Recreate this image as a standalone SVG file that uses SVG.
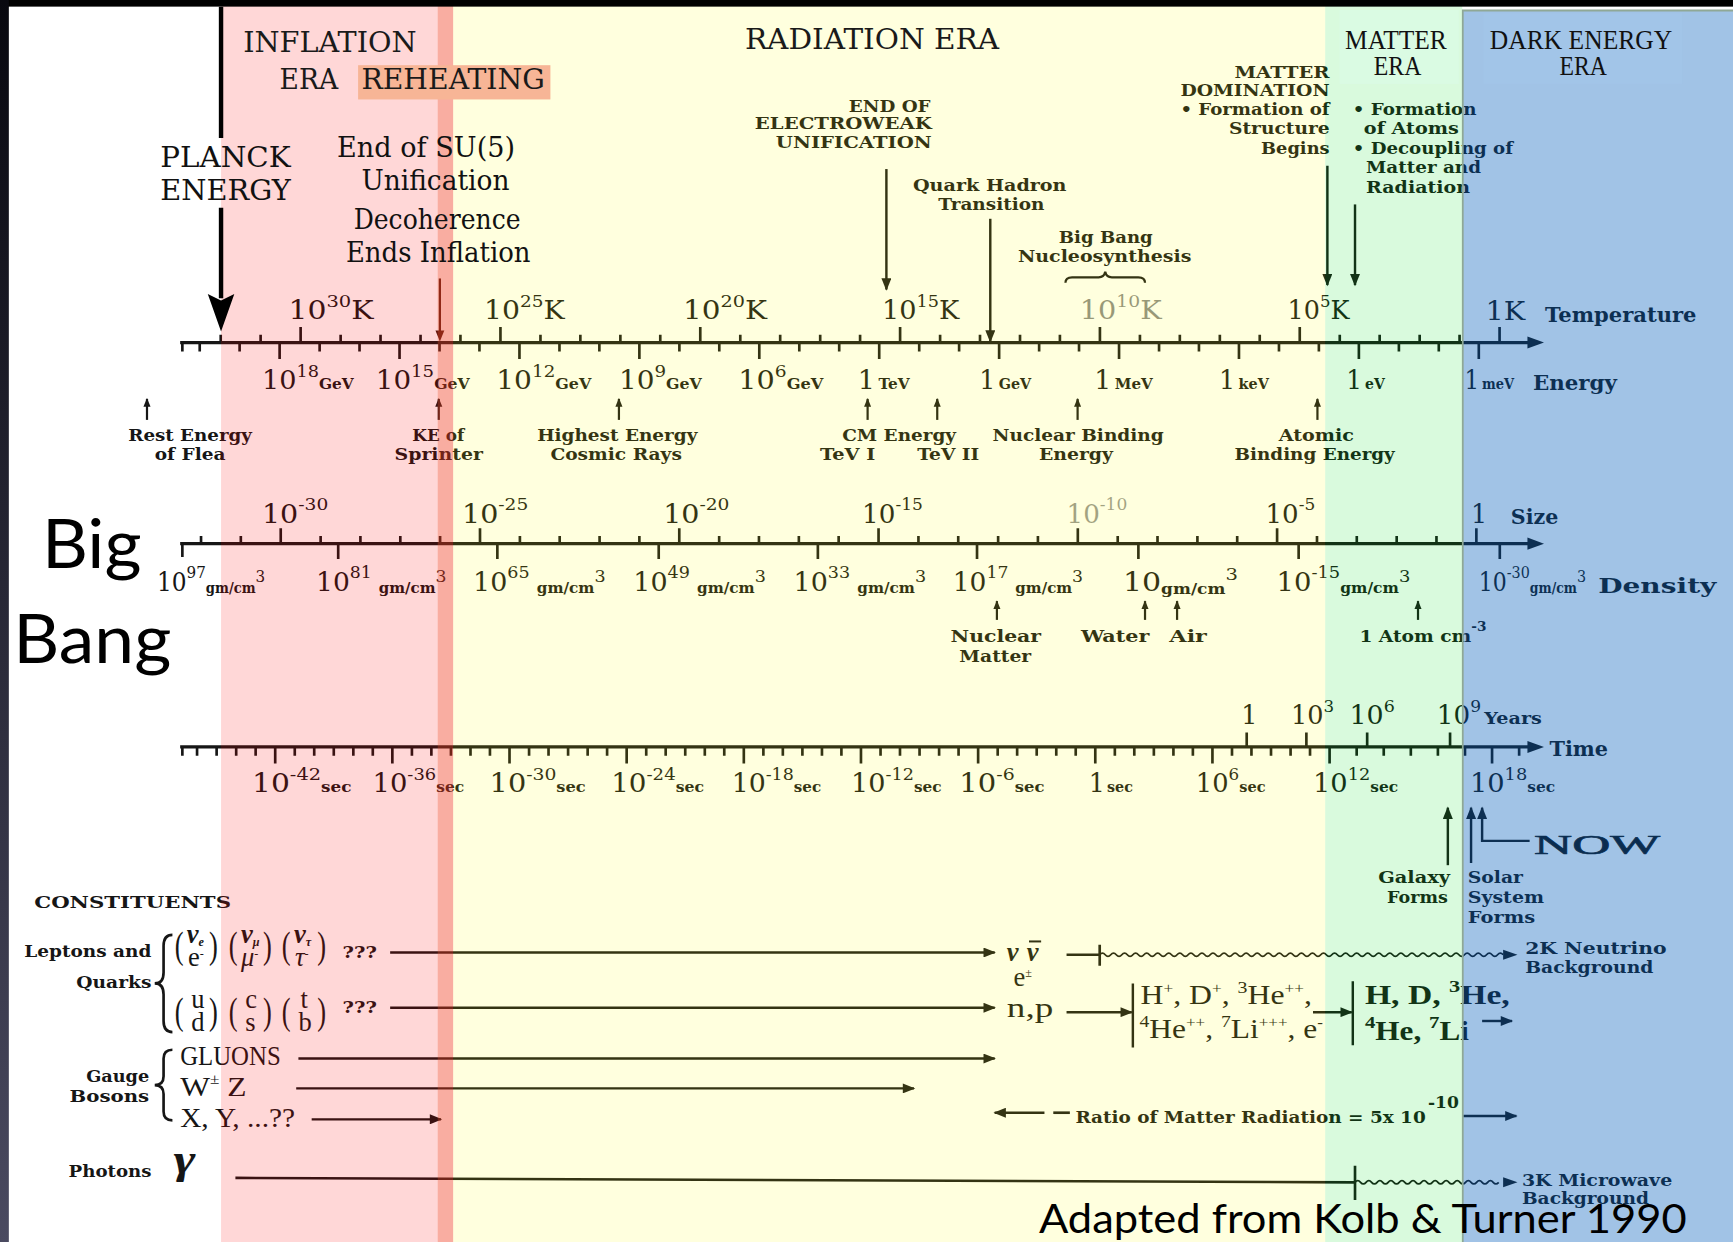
<svg xmlns="http://www.w3.org/2000/svg" width="1733" height="1242" viewBox="0 0 1733 1242">
<defs>
<style>
.n{font-family:"DejaVu Serif","Liberation Serif",serif;font-size:23px;fill:#161616}
.s{font-size:15px}
.u{font-size:13px;font-weight:bold}
.b{font-family:"DejaVu Serif","Liberation Serif",serif;font-weight:bold;font-size:15px;fill:#161616}
.bl{font-family:"DejaVu Serif","Liberation Serif",serif;font-weight:bold;font-size:19px;fill:#161616}
.era{font-family:"DejaVu Serif","Liberation Serif",serif;font-size:26px;fill:#1a1a1a}
.pl{font-family:"DejaVu Serif","Liberation Serif",serif;font-size:25px;fill:#111}
.tm{font-family:"Liberation Serif",serif;font-size:24px;fill:#111}
.cs{font-family:"Liberation Serif",serif;font-size:24px;fill:#161616}
.gl{font-family:Lato,"Open Sans",sans-serif;fill:#000}
.ax{stroke:#161616;stroke-width:3;fill:none}
.tk{stroke:#161616;stroke-width:2.4;fill:none}
.ar{stroke:#161616;stroke-width:2.2;fill:none;marker-end:url(#ah)}
.sa{stroke:#161616;stroke-width:2;fill:none;marker-end:url(#as)}
.wv{stroke:#161616;stroke-width:1.6;fill:none}
</style>
<marker id="ah" viewBox="0 0 10 8" refX="9" refY="4" markerWidth="12" markerHeight="9" markerUnits="userSpaceOnUse" orient="auto"><path d="M0 0L10 4L0 8z" fill="#161616"/></marker>
<marker id="as" viewBox="0 0 10 8" refX="9" refY="4" markerWidth="8" markerHeight="7" markerUnits="userSpaceOnUse" orient="auto"><path d="M0 0L10 4L0 8z" fill="#161616"/></marker>
<linearGradient id="lb" x1="0" y1="0" x2="0" y2="1"><stop offset="0" stop-color="#08080f"/><stop offset="1" stop-color="#4a4a60"/></linearGradient>
</defs>
<rect width="1733" height="1242" fill="#ffffff"/>
<g transform="scale(1.10523 1.10498)">

<!-- ===== Temperature / Energy axis ===== -->
<g id="axis-temperature-energy">
<path class="ax" d="M163 310H1384"/>
<path d="M1382 304.5L1397 310L1382 315.5z" fill="#161616"/>
<path class="tk" d="M199.7 310v-7M235.8 310v-7M308.2 310v-7M344.3 310v-7M380.5 310v-7M416.6 310v-7M489 310v-7M525.1 310v-7M561.3 310v-7M597.4 310v-7M669.8 310v-7M705.9 310v-7M742.1 310v-7M778.2 310v-7M850.6 310v-7M886.7 310v-7M922.9 310v-7M959 310v-7M1031.4 310v-7M1067.5 310v-7M1103.7 310v-7M1139.8 310v-7M1212.2 310v-7M1248.3 310v-7M1284.5 310v-7M1320.6 310v-7"/>
<path class="tk" stroke-width="3" d="M272 310v-14M452.8 310v-14M633.6 310v-14M814.4 310v-14M995.2 310v-14M1176 310v-14M1356.8 310v-14"/>
<path class="tk" d="M165 310v8M180.7 310v8M216.8 310v8M289.2 310v8M325.3 310v8M397.7 310v8M433.8 310v8M506.2 310v8M542.3 310v8M614.7 310v8M650.8 310v8M723.2 310v8M759.3 310v8M831.7 310v8M867.8 310v8M940.2 310v8M976.3 310v8M1048.7 310v8M1084.8 310v8M1157.2 310v8M1193.3 310v8M1265.7 310v8M1301.8 310v8"/>
<path class="tk" stroke-width="3" d="M253 310v15M361.5 310v15M470 310v15M578.5 310v15M687 310v15M795.5 310v15M904 310v15M1012.5 310v15M1121 310v15M1229.5 310v15M1338 310v15"/>
<text class="n" x="261" y="289" textLength="77" lengthAdjust="spacingAndGlyphs">10<tspan class="s" dy="-11">30</tspan><tspan dy="11">K</tspan></text>
<text class="n" x="438" y="289" textLength="73" lengthAdjust="spacingAndGlyphs">10<tspan class="s" dy="-11">25</tspan><tspan dy="11">K</tspan></text>
<text class="n" x="618" y="289" textLength="76" lengthAdjust="spacingAndGlyphs">10<tspan class="s" dy="-11">20</tspan><tspan dy="11">K</tspan></text>
<text class="n" x="798" y="289" textLength="70" lengthAdjust="spacingAndGlyphs">10<tspan class="s" dy="-11">15</tspan><tspan dy="11">K</tspan></text>
<text class="n" x="977" y="289" textLength="74" lengthAdjust="spacingAndGlyphs" opacity="0.5">10<tspan class="s" dy="-11">10</tspan><tspan dy="11">K</tspan></text>
<text class="n" x="1165" y="289" textLength="56" lengthAdjust="spacingAndGlyphs">10<tspan class="s" dy="-11">5</tspan><tspan dy="11">K</tspan></text>
<text class="n" x="1344" y="290" textLength="36" lengthAdjust="spacingAndGlyphs">1K</text>
<text class="bl" x="1398" y="291" textLength="137" lengthAdjust="spacingAndGlyphs">Temperature</text>
<text class="n" x="237" y="352" textLength="83" lengthAdjust="spacingAndGlyphs">10<tspan class="s" dy="-11">18</tspan><tspan class="u" dy="11">GeV</tspan></text>
<text class="n" x="340" y="352" textLength="85" lengthAdjust="spacingAndGlyphs">10<tspan class="s" dy="-11">15</tspan><tspan class="u" dy="11">GeV</tspan></text>
<text class="n" x="449" y="352" textLength="86" lengthAdjust="spacingAndGlyphs">10<tspan class="s" dy="-11">12</tspan><tspan class="u" dy="11">GeV</tspan></text>
<text class="n" x="560" y="352" textLength="75" lengthAdjust="spacingAndGlyphs">10<tspan class="s" dy="-11">9</tspan><tspan class="u" dy="11">GeV</tspan></text>
<text class="n" x="668" y="352" textLength="77" lengthAdjust="spacingAndGlyphs">10<tspan class="s" dy="-11">6</tspan><tspan class="u" dy="11">GeV</tspan></text>
<text class="n" x="776" y="352" textLength="47" lengthAdjust="spacingAndGlyphs">1<tspan class="u" dx="3">TeV</tspan></text>
<text class="n" x="886" y="352" textLength="47" lengthAdjust="spacingAndGlyphs">1<tspan class="u" dx="3">GeV</tspan></text>
<text class="n" x="990" y="352" textLength="53" lengthAdjust="spacingAndGlyphs">1<tspan class="u" dx="3">MeV</tspan></text>
<text class="n" x="1103" y="352" textLength="45" lengthAdjust="spacingAndGlyphs">1<tspan class="u" dx="3">keV</tspan></text>
<text class="n" x="1218" y="352" textLength="35" lengthAdjust="spacingAndGlyphs">1<tspan class="u" dx="3">eV</tspan></text>
<text class="n" x="1325" y="352" textLength="45" lengthAdjust="spacingAndGlyphs">1<tspan class="u" dx="3">meV</tspan></text>
<text class="bl" x="1387" y="353" textLength="76" lengthAdjust="spacingAndGlyphs">Energy</text>
</g>

<g id="energy-markers">
<path class="sa" d="M133 380V361"/>
<path class="sa" d="M397 380V361"/>
<path class="sa" d="M560 380V361"/>
<path class="sa" d="M785 380V361"/>
<path class="sa" d="M848 380V361"/>
<path class="sa" d="M975 380V361"/>
<path class="sa" d="M1192 380V361"/>
<text class="b" x="116" y="399" textLength="112" lengthAdjust="spacingAndGlyphs">Rest Energy</text>
<text class="b" x="140" y="416" textLength="64" lengthAdjust="spacingAndGlyphs">of Flea</text>
<text class="b" x="373" y="399" textLength="47" lengthAdjust="spacingAndGlyphs">KE of</text>
<text class="b" x="357" y="416" textLength="80" lengthAdjust="spacingAndGlyphs">Sprinter</text>
<text class="b" x="486" y="399" textLength="145" lengthAdjust="spacingAndGlyphs">Highest Energy</text>
<text class="b" x="498" y="416" textLength="119" lengthAdjust="spacingAndGlyphs">Cosmic Rays</text>
<text class="b" x="762" y="399" textLength="103" lengthAdjust="spacingAndGlyphs">CM Energy</text>
<text class="b" x="742" y="416" textLength="50" lengthAdjust="spacingAndGlyphs">TeV I</text>
<text class="b" x="830" y="416" textLength="56" lengthAdjust="spacingAndGlyphs">TeV II</text>
<text class="b" x="898" y="399" textLength="155" lengthAdjust="spacingAndGlyphs">Nuclear Binding</text>
<text class="b" x="940" y="416" textLength="67" lengthAdjust="spacingAndGlyphs">Energy</text>
<text class="b" x="1157" y="399" textLength="68" lengthAdjust="spacingAndGlyphs">Atomic</text>
<text class="b" x="1117" y="416" textLength="145" lengthAdjust="spacingAndGlyphs">Binding Energy</text>
</g>

<!-- ===== Size / Density axis ===== -->
<g id="axis-size-density">
<path class="ax" d="M163 492H1384"/>
<path d="M1382 486.5L1397 492L1382 497.5z" fill="#161616"/>
<path class="tk" d="M181.9 492v-7M217.9 492v-7M290.1 492v-7M326.1 492v-7M362.2 492v-7M398.2 492v-7M470.4 492v-7M506.4 492v-7M542.5 492v-7M578.5 492v-7M650.7 492v-7M686.7 492v-7M722.8 492v-7M758.8 492v-7M831 492v-7M867 492v-7M903.1 492v-7M939.1 492v-7M1011.3 492v-7M1047.3 492v-7M1083.4 492v-7M1119.4 492v-7M1191.6 492v-7M1227.6 492v-7M1263.7 492v-7M1299.7 492v-7"/>
<path class="tk" stroke-width="3" d="M254 492v-14M434.3 492v-14M614.6 492v-14M794.9 492v-14M975.2 492v-14M1155.5 492v-14M1335.8 492v-14"/>
<path class="tk" stroke-width="3" d="M165 492v12M306 492v14M450 492v14M596 492v14M740 492v14M884 492v14M1030 492v14M1175 492v14M1357 492v14"/>
<text class="n" x="237" y="473" textLength="60" lengthAdjust="spacingAndGlyphs">10<tspan class="s" dy="-11">-30</tspan></text>
<text class="n" x="418" y="473" textLength="60" lengthAdjust="spacingAndGlyphs">10<tspan class="s" dy="-11">-25</tspan></text>
<text class="n" x="600" y="473" textLength="60" lengthAdjust="spacingAndGlyphs">10<tspan class="s" dy="-11">-20</tspan></text>
<text class="n" x="780" y="473" textLength="55" lengthAdjust="spacingAndGlyphs">10<tspan class="s" dy="-11">-15</tspan></text>
<text class="n" x="965" y="473" textLength="55" lengthAdjust="spacingAndGlyphs" opacity="0.45">10<tspan class="s" dy="-11">-10</tspan></text>
<text class="n" x="1145" y="473" textLength="45" lengthAdjust="spacingAndGlyphs">10<tspan class="s" dy="-11">-5</tspan></text>
<text class="n" x="1331" y="473">1</text>
<text class="bl" x="1367" y="474" textLength="43" lengthAdjust="spacingAndGlyphs">Size</text>
<text class="n" x="142" y="535" textLength="98" lengthAdjust="spacingAndGlyphs">10<tspan class="s" dy="-12">97</tspan><tspan class="u" dy="14">gm/cm</tspan><tspan class="s" dy="-10">3</tspan></text>
<text class="n" x="286" y="535" textLength="118" lengthAdjust="spacingAndGlyphs">10<tspan class="s" dy="-12">81</tspan><tspan class="u" dy="14" dx="6">gm/cm</tspan><tspan class="s" dy="-10">3</tspan></text>
<text class="n" x="428" y="535" textLength="120" lengthAdjust="spacingAndGlyphs">10<tspan class="s" dy="-12">65</tspan><tspan class="u" dy="14" dx="6">gm/cm</tspan><tspan class="s" dy="-10">3</tspan></text>
<text class="n" x="573" y="535" textLength="120" lengthAdjust="spacingAndGlyphs">10<tspan class="s" dy="-12">49</tspan><tspan class="u" dy="14" dx="6">gm/cm</tspan><tspan class="s" dy="-10">3</tspan></text>
<text class="n" x="718" y="535" textLength="120" lengthAdjust="spacingAndGlyphs">10<tspan class="s" dy="-12">33</tspan><tspan class="u" dy="14" dx="6">gm/cm</tspan><tspan class="s" dy="-10">3</tspan></text>
<text class="n" x="862" y="535" textLength="118" lengthAdjust="spacingAndGlyphs">10<tspan class="s" dy="-12">17</tspan><tspan class="u" dy="14" dx="6">gm/cm</tspan><tspan class="s" dy="-10">3</tspan></text>
<text class="n" x="1016" y="535" textLength="104" lengthAdjust="spacingAndGlyphs">10<tspan class="u" dy="3">gm/cm</tspan><tspan class="s" dy="-13">3</tspan></text>
<text class="n" x="1155" y="535" textLength="121" lengthAdjust="spacingAndGlyphs">10<tspan class="s" dy="-12">-15</tspan><tspan class="u" dy="14">gm/cm</tspan><tspan class="s" dy="-10">3</tspan></text>
<text class="n" x="1338" y="535" textLength="97" lengthAdjust="spacingAndGlyphs">10<tspan class="s" dy="-12">-30</tspan><tspan class="u" dy="14">gm/cm</tspan><tspan class="s" dy="-10">3</tspan></text>
<text class="bl" x="1446" y="537" textLength="107" lengthAdjust="spacingAndGlyphs">Density</text>
</g>

<g id="density-markers">
<path class="sa" d="M902 561V544"/>
<path class="sa" d="M1036 561V544"/>
<path class="sa" d="M1065 561V544"/>
<path class="sa" d="M1283 561V544"/>
<text class="b" x="860" y="581" textLength="82" lengthAdjust="spacingAndGlyphs">Nuclear</text>
<text class="b" x="868" y="599" textLength="65" lengthAdjust="spacingAndGlyphs">Matter</text>
<text class="b" x="978" y="581" textLength="62" lengthAdjust="spacingAndGlyphs">Water</text>
<text class="b" x="1058" y="581" textLength="34" lengthAdjust="spacingAndGlyphs">Air</text>
<text class="b" x="1230" y="581" textLength="115" lengthAdjust="spacingAndGlyphs">1 Atom cm<tspan font-size="11" dy="-10">-3</tspan></text>
</g>

<!-- ===== Time axis ===== -->
<g id="axis-time">
<path class="ax" d="M163 676H1384"/>
<path d="M1382 670.5L1397 676L1382 681.5z" fill="#161616"/>
<path class="tk" d="M165 676v8M178.3 676v8M196 676v8M213.7 676v8M231.3 676v8M266.7 676v8M284.3 676v8M302 676v8M319.7 676v8M337.3 676v8M372.7 676v8M390.3 676v8M408 676v8M425.7 676v8M443.3 676v8M478.7 676v8M496.3 676v8M514 676v8M531.7 676v8M549.3 676v8M584.7 676v8M602.3 676v8M620 676v8M637.7 676v8M655.3 676v8M690.7 676v8M708.3 676v8M726 676v8M743.7 676v8M761.3 676v8M796.7 676v8M814.3 676v8M832 676v8M849.7 676v8M867.3 676v8M902.7 676v8M920.3 676v8M938 676v8M955.7 676v8M973.3 676v8M1008.7 676v8M1026.3 676v8M1044 676v8M1061.7 676v8M1079.3 676v8M1114.7 676v8M1132.3 676v8M1150 676v8M1167.7 676v8M1185.3 676v8M1227.5 676v8M1252 676v8M1276.5 676v8M1301 676v8M1325.5 676v8M1374.5 676v8"/>
<path class="tk" stroke-width="3" d="M249 676v15M355 676v15M461 676v15M567 676v15M673 676v15M779 676v15M885 676v15M991 676v15M1097 676v15M1203 676v15M1350 676v15"/>
<path class="tk" stroke-width="3" d="M1128 676v-13M1182 676v-13M1237 676v-13M1312 676v-13"/>
<text class="n" x="228" y="717" textLength="90" lengthAdjust="spacingAndGlyphs">10<tspan class="s" dy="-11">-42</tspan><tspan class="u" dy="11">sec</tspan></text>
<text class="n" x="337" y="717" textLength="83" lengthAdjust="spacingAndGlyphs">10<tspan class="s" dy="-11">-36</tspan><tspan class="u" dy="11">sec</tspan></text>
<text class="n" x="443" y="717" textLength="87" lengthAdjust="spacingAndGlyphs">10<tspan class="s" dy="-11">-30</tspan><tspan class="u" dy="11">sec</tspan></text>
<text class="n" x="553" y="717" textLength="84" lengthAdjust="spacingAndGlyphs">10<tspan class="s" dy="-11">-24</tspan><tspan class="u" dy="11">sec</tspan></text>
<text class="n" x="662" y="717" textLength="81" lengthAdjust="spacingAndGlyphs">10<tspan class="s" dy="-11">-18</tspan><tspan class="u" dy="11">sec</tspan></text>
<text class="n" x="770" y="717" textLength="82" lengthAdjust="spacingAndGlyphs">10<tspan class="s" dy="-11">-12</tspan><tspan class="u" dy="11">sec</tspan></text>
<text class="n" x="868" y="717" textLength="77" lengthAdjust="spacingAndGlyphs">10<tspan class="s" dy="-11">-6</tspan><tspan class="u" dy="11">sec</tspan></text>
<text class="n" x="985" y="717" textLength="40" lengthAdjust="spacingAndGlyphs">1<tspan class="u" dx="2">sec</tspan></text>
<text class="n" x="1082" y="717" textLength="63" lengthAdjust="spacingAndGlyphs">10<tspan class="s" dy="-11">6</tspan><tspan class="u" dy="11">sec</tspan></text>
<text class="n" x="1188" y="717" textLength="77" lengthAdjust="spacingAndGlyphs">10<tspan class="s" dy="-11">12</tspan><tspan class="u" dy="11">sec</tspan></text>
<text class="n" x="1330" y="717" textLength="77" lengthAdjust="spacingAndGlyphs">10<tspan class="s" dy="-11">18</tspan><tspan class="u" dy="11">sec</tspan></text>
<text class="n" x="1123" y="655">1</text>
<text class="n" x="1168" y="655" textLength="39" lengthAdjust="spacingAndGlyphs">10<tspan class="s" dy="-11">3</tspan></text>
<text class="n" x="1221" y="655" textLength="41" lengthAdjust="spacingAndGlyphs">10<tspan class="s" dy="-11">6</tspan></text>
<text class="n" x="1300" y="655" textLength="40" lengthAdjust="spacingAndGlyphs">10<tspan class="s" dy="-11">9</tspan></text>
<text class="b" x="1343" y="655" textLength="52" lengthAdjust="spacingAndGlyphs" font-size="13">Years</text>
<text class="bl" x="1402" y="684" textLength="53" lengthAdjust="spacingAndGlyphs">Time</text>
</g>

<g id="now-markers">
<path class="ar" stroke-width="3" d="M1310 783V731"/>
<path class="ar" stroke-width="2.6" d="M1331 781V731"/>
<path class="ar" stroke-width="2.6" d="M1384 761H1341V731"/>
<text class="tm" x="1388" y="773" font-size="47" textLength="114" lengthAdjust="spacingAndGlyphs" stroke="#161616" stroke-width="0.6">NOW</text>
<text class="b" x="1247" y="799" textLength="65" lengthAdjust="spacingAndGlyphs">Galaxy</text>
<text class="b" x="1255" y="817" textLength="55" lengthAdjust="spacingAndGlyphs">Forms</text>
<text class="b" x="1328" y="799" textLength="50" lengthAdjust="spacingAndGlyphs">Solar</text>
<text class="b" x="1328" y="817" textLength="69" lengthAdjust="spacingAndGlyphs">System</text>
<text class="b" x="1328" y="835" textLength="61" lengthAdjust="spacingAndGlyphs">Forms</text>
</g>

<!-- ===== Event annotations ===== -->
<g id="event-electroweak">
<text class="b" x="768" y="101" textLength="74" lengthAdjust="spacingAndGlyphs">END OF</text>
<text class="b" x="683" y="117" textLength="160" lengthAdjust="spacingAndGlyphs">ELECTROWEAK</text>
<text class="b" x="702" y="134" textLength="141" lengthAdjust="spacingAndGlyphs">UNIFICATION</text>
<path class="ar" d="M802 153V262"/>
</g>
<g id="event-quark-hadron">
<text class="b" x="826" y="173" textLength="139" lengthAdjust="spacingAndGlyphs">Quark Hadron</text>
<text class="b" x="849" y="190" textLength="96" lengthAdjust="spacingAndGlyphs">Transition</text>
<path class="ar" d="M896 198V309"/>
</g>
<g id="event-nucleosynthesis">
<text class="b" x="958" y="220" textLength="85" lengthAdjust="spacingAndGlyphs">Big Bang</text>
<text class="b" x="921" y="237" textLength="157" lengthAdjust="spacingAndGlyphs">Nucleosynthesis</text>
<path d="M964 256q0 -5 6 -5h24q5 0 6 -5q1 5 6 5h24q6 0 6 5" fill="none" stroke="#161616" stroke-width="2"/>
</g>
<g id="event-matter-domination">
<text class="b" x="1117" y="71" textLength="86" lengthAdjust="spacingAndGlyphs">MATTER</text>
<text class="b" x="1068" y="87" textLength="135" lengthAdjust="spacingAndGlyphs">DOMINATION</text>
<text class="b" x="1068" y="104" textLength="135" lengthAdjust="spacingAndGlyphs">• Formation of</text>
<text class="b" x="1112" y="121" textLength="91" lengthAdjust="spacingAndGlyphs">Structure</text>
<text class="b" x="1141" y="139" textLength="62" lengthAdjust="spacingAndGlyphs">Begins</text>
<path class="ar" d="M1201 150V258"/>
</g>
<g id="event-decoupling">
<text class="b" x="1224" y="104" textLength="112" lengthAdjust="spacingAndGlyphs">• Formation</text>
<text class="b" x="1234" y="121" textLength="86" lengthAdjust="spacingAndGlyphs">of Atoms</text>
<text class="b" x="1224" y="139" textLength="145" lengthAdjust="spacingAndGlyphs">• Decoupling of</text>
<text class="b" x="1236" y="157" textLength="104" lengthAdjust="spacingAndGlyphs">Matter and</text>
<text class="b" x="1236" y="175" textLength="94" lengthAdjust="spacingAndGlyphs">Radiation</text>
<path class="ar" d="M1226 185V258"/>
</g>
<g id="event-reheating-line">
<path d="M398 252V300" stroke="#4a1a10" stroke-width="2"/>
<path d="M394 299L398 309L402 299z" fill="#4a1a10"/>
</g>

<!-- ===== Constituents ===== -->
<g id="constituents">
<text class="b" x="31" y="822" font-size="19" textLength="178" lengthAdjust="spacingAndGlyphs">CONSTITUENTS</text>
<text class="b" x="22" y="866" textLength="115" lengthAdjust="spacingAndGlyphs">Leptons and</text>
<text class="b" x="69" y="894" textLength="68" lengthAdjust="spacingAndGlyphs">Quarks</text>
<path d="M156 846q-8 0 -8 10v24q0 10 -8 10q8 0 8 10v24q0 10 8 10" fill="none" stroke="#161616" stroke-width="2.4"/>
<text class="cs" font-size="30" transform="translate(158 867) scale(1 1.45)">(</text>
<text class="cs" font-size="30" transform="translate(189 867) scale(1 1.45)">)</text>
<text class="cs" font-size="30" transform="translate(207 867) scale(1 1.45)">(</text>
<text class="cs" font-size="30" transform="translate(238 867) scale(1 1.45)">)</text>
<text class="cs" font-size="30" transform="translate(255 867) scale(1 1.45)">(</text>
<text class="cs" font-size="30" transform="translate(287 867) scale(1 1.45)">)</text>
<text class="cs" font-size="19" font-style="italic" font-weight="bold" x="169" y="853">ν<tspan font-size="11" dy="3">e</tspan></text>
<text class="cs" font-size="19" x="170" y="874">e<tspan font-size="11" dy="-7">-</tspan></text>
<text class="cs" font-size="19" font-style="italic" font-weight="bold" x="218" y="853">ν<tspan font-size="11" dy="3">μ</tspan></text>
<text class="cs" font-size="19" font-style="italic" x="218" y="874">μ<tspan font-size="11" dy="-7">-</tspan></text>
<text class="cs" font-size="19" font-style="italic" font-weight="bold" x="266" y="853">ν<tspan font-size="11" dy="3">τ</tspan></text>
<text class="cs" font-size="19" font-style="italic" x="267" y="874">τ<tspan font-size="11" dy="-7">-</tspan></text>
<text class="b" x="310" y="867" textLength="31" lengthAdjust="spacingAndGlyphs">???</text>
<text class="cs" font-size="30" transform="translate(158 927) scale(1 1.45)">(</text>
<text class="cs" font-size="30" transform="translate(189 927) scale(1 1.45)">)</text>
<text class="cs" font-size="30" transform="translate(207 927) scale(1 1.45)">(</text>
<text class="cs" font-size="30" transform="translate(238 927) scale(1 1.45)">)</text>
<text class="cs" font-size="30" transform="translate(255 927) scale(1 1.45)">(</text>
<text class="cs" font-size="30" transform="translate(287 927) scale(1 1.45)">)</text>
<text class="cs" font-size="20" x="173" y="912">u</text><text class="cs" font-size="20" x="173" y="933">d</text>
<text class="cs" font-size="20" x="222" y="912">c</text><text class="cs" font-size="20" x="222" y="933">s</text>
<text class="cs" font-size="20" x="272" y="912">t</text><text class="cs" font-size="20" x="270" y="933">b</text>
<text class="b" x="310" y="917" textLength="31" lengthAdjust="spacingAndGlyphs">???</text>

<text class="b" x="78" y="979" textLength="57" lengthAdjust="spacingAndGlyphs">Gauge</text>
<text class="b" x="63" y="997" textLength="72" lengthAdjust="spacingAndGlyphs">Bosons</text>
<path d="M156 950q-8 0 -8 8v16q0 8 -8 8q8 0 8 8v16q0 8 8 8" fill="none" stroke="#161616" stroke-width="2.4"/>
<text class="cs" x="163" y="964" font-size="22" textLength="91" lengthAdjust="spacingAndGlyphs">GLUONS</text>
<text class="cs" x="163" y="992" font-size="25" textLength="60" lengthAdjust="spacingAndGlyphs">W<tspan font-size="13" dy="-11">±</tspan><tspan dy="11"> Z</tspan></text>
<text class="cs" x="163" y="1020" font-size="25" textLength="104" lengthAdjust="spacingAndGlyphs">X, Y, ...??</text>
<text class="b" x="62" y="1065" textLength="75" lengthAdjust="spacingAndGlyphs">Photons</text>
<text class="cs" font-size="30" font-style="italic" font-weight="bold" transform="translate(157 1062) scale(2 1.6)">γ</text>

<text class="cs" x="911" y="870" font-size="22" font-style="italic" font-weight="bold">ν</text>
<text class="cs" x="929" y="870" font-size="22" font-style="italic" font-weight="bold">ν</text>
<path d="M931 852H942" stroke="#161616" stroke-width="1.8"/>
<text class="cs" x="917" y="892" font-size="18">e<tspan font-size="11" dy="-8">±</tspan></text>
<text class="cs" x="911" y="920" font-size="26" textLength="42" lengthAdjust="spacingAndGlyphs">n,p</text>
<path d="M1025 890V948M1224 888V946" stroke="#161616" stroke-width="2.2"/>
<text class="cs" x="1032" y="909" font-size="24" textLength="155" lengthAdjust="spacingAndGlyphs">H<tspan font-size="13" dy="-10">+</tspan><tspan dy="10">, D</tspan><tspan font-size="13" dy="-10">+</tspan><tspan dy="10">, </tspan><tspan font-size="15" dy="-10">3</tspan><tspan dy="10">He</tspan><tspan font-size="13" dy="-10">++</tspan><tspan dy="10">,</tspan></text>
<text class="cs" x="1031" y="939" font-size="24" textLength="166" lengthAdjust="spacingAndGlyphs"><tspan font-size="15" dy="-10">4</tspan><tspan dy="10">He</tspan><tspan font-size="13" dy="-10">++</tspan><tspan dy="10">, </tspan><tspan font-size="15" dy="-10">7</tspan><tspan dy="10">Li</tspan><tspan font-size="13" dy="-10">+++</tspan><tspan dy="10">, e</tspan><tspan font-size="13" dy="-10">-</tspan></text>
<text class="cs" x="1235" y="909" font-size="26" font-weight="bold" textLength="131" lengthAdjust="spacingAndGlyphs">H, D, <tspan font-size="16" dy="-11">3</tspan><tspan dy="11">He,</tspan></text>
<text class="cs" x="1235" y="941" font-size="26" font-weight="bold" textLength="94" lengthAdjust="spacingAndGlyphs"><tspan font-size="16" dy="-11">4</tspan><tspan dy="11">He, </tspan><tspan font-size="16" dy="-11">7</tspan><tspan dy="11">Li</tspan></text>
<text class="b" x="973" y="1016" font-size="16" textLength="317" lengthAdjust="spacingAndGlyphs">Ratio of Matter Radiation = 5x 10</text>
<text class="b" x="1292" y="1003" font-size="12" textLength="28" lengthAdjust="spacingAndGlyphs">-10</text>
<text class="b" x="1380" y="863" textLength="128" lengthAdjust="spacingAndGlyphs">2K Neutrino</text>
<text class="b" x="1380" y="881" textLength="116" lengthAdjust="spacingAndGlyphs">Background</text>
<text class="b" x="1377" y="1073" textLength="136" lengthAdjust="spacingAndGlyphs">3K Microwave</text>
<text class="b" x="1377" y="1090" textLength="115" lengthAdjust="spacingAndGlyphs">Background</text>
</g>

<g id="connectors">
<path class="ar" d="M353 862H900"/>
<path class="ar" d="M353 912H900"/>
<path class="ar" d="M270 958H900"/>
<path class="ar" d="M268 985H827"/>
<path class="ar" d="M282 1013H399"/>
<path class="ar" d="M965 916H1024"/>
<path class="ar" d="M1188 916H1223"/>
<path class="ar" d="M1341 924H1368"/>
<path class="tk" stroke-width="2" d="M965 864H995M995 855V874"/>
<path class="wv" d="M995 864q2.5 -3 5 0t5 0t5 0t5 0t5 0t5 0t5 0t5 0t5 0t5 0t5 0t5 0t5 0t5 0t5 0t5 0t5 0t5 0t5 0t5 0t5 0t5 0t5 0t5 0t5 0t5 0t5 0t5 0t5 0t5 0t5 0t5 0t5 0t5 0t5 0t5 0t5 0t5 0t5 0t5 0t5 0t5 0t5 0t5 0t5 0t5 0t5 0t5 0t5 0t5 0t5 0t5 0t5 0t5 0t5 0t5 0t5 0t5 0t5 0t5 0t5 0t5 0t5 0t5 0t5 0t5 0t5 0t5 0t5 0t5 0t5 0t5 0t5 0"/>
<path d="M1360 859.5L1373 864L1360 868.5z" fill="#161616"/>
<path class="ar" d="M945 1007H900"/>
<path class="tk" stroke-width="2" d="M953 1007H968"/>
<path class="ar" d="M1324 1010H1372"/>
<path class="tk" stroke-width="2.4" d="M213 1066L1226 1070M1226 1055V1086"/>
<path class="wv" d="M1226 1070q2.5 -3 5 0t5 0t5 0t5 0t5 0t5 0t5 0t5 0t5 0t5 0t5 0t5 0t5 0t5 0t5 0t5 0t5 0t5 0t5 0t5 0t5 0t5 0t5 0t5 0t5 0t5 0"/>
<path d="M1360 1065.5L1373 1070L1360 1074.5z" fill="#161616"/>
</g>

<!-- ===== Era colour overlays ===== -->
<g id="eras">
<rect x="200" y="0" width="196" height="1124" fill="rgb(255,0,0)" opacity="0.157"/>
<rect x="396" y="0" width="14" height="1124" fill="rgb(240,60,30)" opacity="0.42"/>
<rect x="410" y="0" width="789" height="1124" fill="rgb(255,255,0)" opacity="0.13"/>
<rect x="1199" y="0" width="124" height="1124" fill="rgb(0,220,30)" opacity="0.15"/>
<rect x="1323" y="9" width="250" height="1120" fill="rgb(0,92,187)" opacity="0.37"/>
<path d="M1323.5 1124V9.5H1568" fill="none" stroke="#8fa896" stroke-width="1.6"/>
<rect x="1212" y="9" width="108" height="67" fill="#dcfbe9" opacity="0.5"/>
<rect x="1342" y="12" width="180" height="64" fill="#a6c9ec" opacity="0.4"/>
</g>

<!-- ===== Titles (slide layer) ===== -->
<g id="titles">
<text class="era" x="220" y="47" textLength="157" lengthAdjust="spacingAndGlyphs">INFLATION</text>
<text class="era" x="253" y="81" textLength="53" lengthAdjust="spacingAndGlyphs">ERA</text>
<rect x="324" y="59" width="174" height="31" fill="#f7b596"/>
<text class="era" x="327" y="81" textLength="166" lengthAdjust="spacingAndGlyphs" fill="#5a2a18">REHEATING</text>
<text class="era" x="674" y="44" textLength="230" lengthAdjust="spacingAndGlyphs" fill="#2a2a22">RADIATION ERA</text>
<text class="tm" x="1217" y="44" textLength="92" lengthAdjust="spacingAndGlyphs">MATTER</text>
<text class="tm" x="1243" y="68" textLength="43" lengthAdjust="spacingAndGlyphs">ERA</text>
<text class="tm" x="1348" y="44" textLength="165" lengthAdjust="spacingAndGlyphs">DARK ENERGY</text>
<text class="tm" x="1411" y="68" textLength="43" lengthAdjust="spacingAndGlyphs">ERA</text>
<text class="pl" x="145" y="151" textLength="118" lengthAdjust="spacingAndGlyphs">PLANCK</text>
<text class="pl" x="145" y="181" textLength="118" lengthAdjust="spacingAndGlyphs">ENERGY</text>
<text class="pl" x="305" y="142" textLength="161" lengthAdjust="spacingAndGlyphs">End of SU(5)</text>
<text class="pl" x="327" y="172" textLength="134" lengthAdjust="spacingAndGlyphs">Unification</text>
<text class="pl" x="320" y="207" textLength="151" lengthAdjust="spacingAndGlyphs">Decoherence</text>
<text class="pl" x="313" y="237" textLength="167" lengthAdjust="spacingAndGlyphs">Ends Inflation</text>
<path d="M200 6V125M200 188V270" stroke="#000" stroke-width="4"/>
<path d="M188 266L200 272L212 266L200 300z" fill="#000"/>
<text class="gl" x="38" y="514" font-size="62" textLength="90" lengthAdjust="spacingAndGlyphs">Big</text>
<text class="gl" x="12" y="600" font-size="62" textLength="143" lengthAdjust="spacingAndGlyphs">Bang</text>
<text class="gl" x="940" y="1116" font-size="37" textLength="586" lengthAdjust="spacingAndGlyphs">Adapted from Kolb &amp; Turner 1990</text>
</g>

<!-- frame -->
<rect x="0" y="0" width="1568" height="6" fill="#000"/>
<rect x="0" y="0" width="8" height="1124" fill="url(#lb)"/>
</g>
</svg>
